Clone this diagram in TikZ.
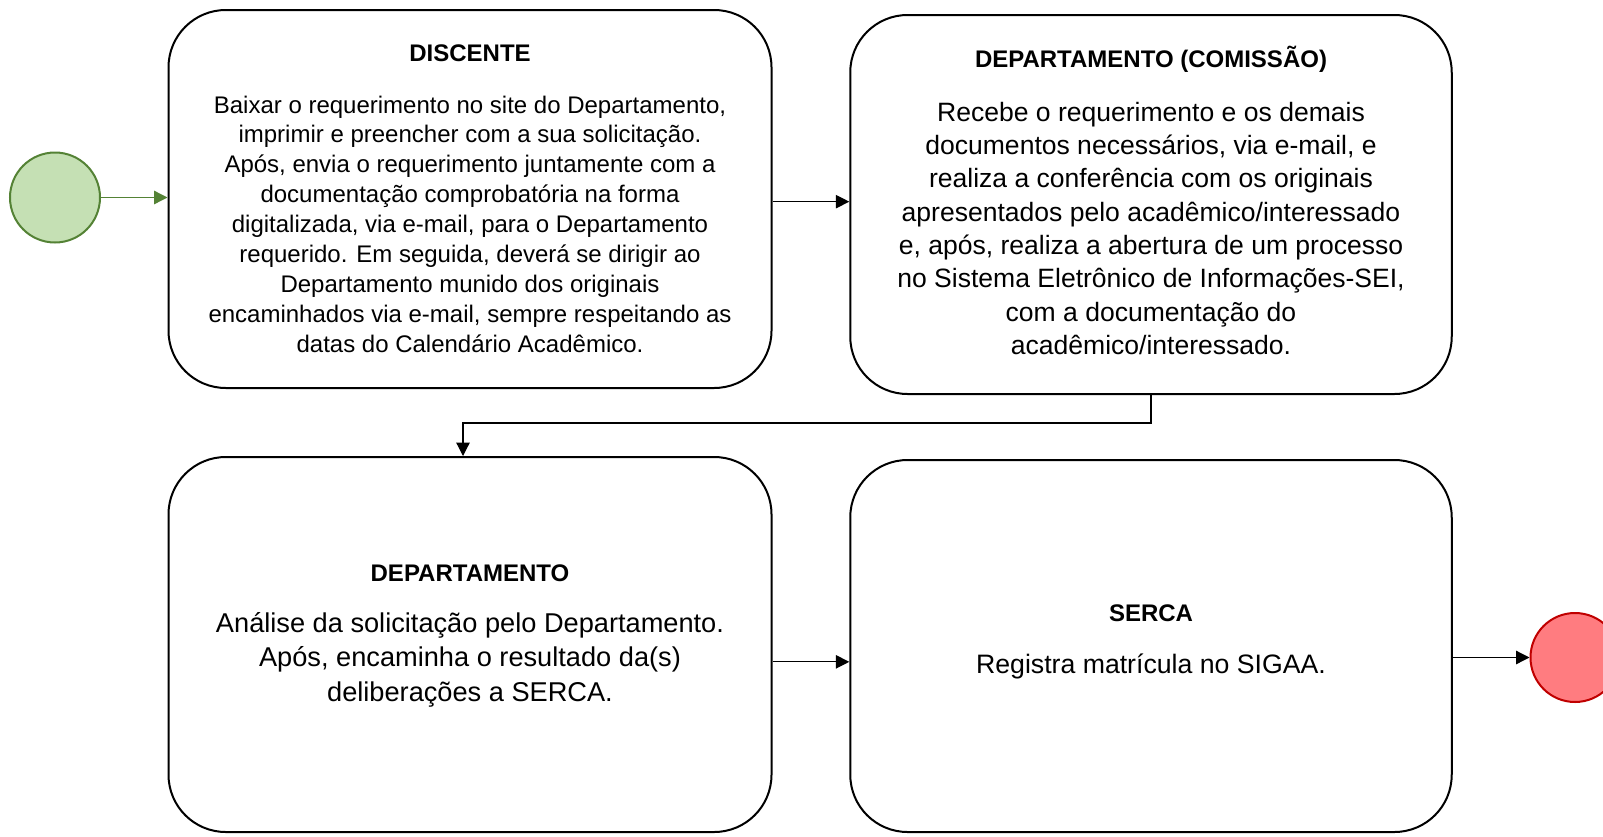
\documentclass[tikz,border=0pt]{standalone}
\usepackage{fontspec}
\setmainfont{Liberation Sans}
\usetikzlibrary{arrows.meta,positioning}

\definecolor{startfill}{HTML}{C5E0B4}
\definecolor{startline}{HTML}{548235}
\definecolor{endfill}{HTML}{FF7C80}
\definecolor{endline}{HTML}{C00000}

\tikzset{
  stepbox/.style={draw, line width=1.5pt, rounded corners=43pt, inner sep=0},
  titletext/.style={anchor=base, inner sep=0, font=\bfseries\fontsize{18}{21.6}\selectfont},
  bodytext/.style={anchor=base, inner sep=0, align=center},
  arr/.style={line width=0.9pt, -{Triangle[length=10pt,width=10pt]}},
  garr/.style={line width=1pt, draw=startline, -{Triangle[length=10pt,width=10pt,fill=startline]}}
}

\begin{document}
\begin{tikzpicture}[x=0.75pt,y=-0.75pt]
    \useasboundingbox (0,0) rectangle (1603,836);

    \node[circle, draw=startline, fill=startfill, line width=1.5pt, minimum size=67.5pt, inner sep=0] (start) at (55,197.5) {};
    \node[circle, draw=endline, fill=endfill, line width=1.5pt, minimum size=66.75pt, inner sep=0] (end) at (1575,657.5) {};

    \node[stepbox, minimum width=452.25pt, minimum height=283.5pt] (discente) at (470,199) {};
    \node[stepbox, minimum width=451.1pt, minimum height=284.25pt] (comissao) at (1151,204.5) {};
    \node[stepbox, minimum width=452.25pt, minimum height=281.25pt] (depto) at (470,644.5) {};
    \node[stepbox, minimum width=451.1pt, minimum height=279pt] (serca) at (1151,646) {};

    \node[titletext] (discentetit) at (470,61.6) {DISCENTE};
    \node[bodytext, font=\fontsize{18}{22.4}\selectfont] (discentetxt) at (470,352) {Baixar o requerimento no site do Departamento,\\
      imprimir e preencher com a sua solicitação.\\
      Após, envia o requerimento juntamente com a\\
      documentação comprobatória na forma\\
      digitalizada, via e-mail, para o Departamento\\
      requerido. Em seguida, deverá se dirigir ao\\
      Departamento munido dos originais\\
      encaminhados via e-mail, sempre respeitando as\\
      datas do Calendário Acadêmico.};

    \node[titletext] (comissaotit) at (1151,67.6) {DEPARTAMENTO (COMISSÃO)};
    \node[bodytext, font=\fontsize{19.9}{25}\selectfont] (comissaotxt) at (1151,354.5) {Recebe o requerimento e os demais\\
      documentos necessários, via e-mail, e\\
      realiza a conferência com os originais\\
      apresentados pelo acadêmico/interessado\\
      e, após, realiza a abertura de um processo\\
      no Sistema Eletrônico de Informações-SEI,\\
      com a documentação do\\
      acadêmico/interessado.};

    \node[titletext] (deptotit) at (470,581) {DEPARTAMENTO};
    \node[bodytext, font=\fontsize{20.4}{25.6}\selectfont] (deptotxt) at (470,701) {Análise da solicitação pelo Departamento.\\
      Após, encaminha o resultado da(s)\\
      deliberações a SERCA.};

    \node[titletext] (sercatit) at (1151,621) {SERCA};
    \node[bodytext, font=\fontsize{20}{25}\selectfont] (sercatxt) at (1151,673) {Registra matrícula no SIGAA.};

    \coordinate (bend) at (463,423);

    \draw[garr] (start) -- (start -| discente.west);
    \draw[arr] ([yshift=-2pt]discente.east) -- ([yshift=-2pt]discente.east -| comissao.west);
    \draw[arr] (comissao.south) |- (bend) -- (bend |- depto.north);
    \draw[arr] ([yshift=-13pt]depto.east) -- ([yshift=-13pt]depto.east -| serca.west);
    \draw[arr] (end.west -| serca.east) -- (end.west);
\end{tikzpicture}
\end{document}
